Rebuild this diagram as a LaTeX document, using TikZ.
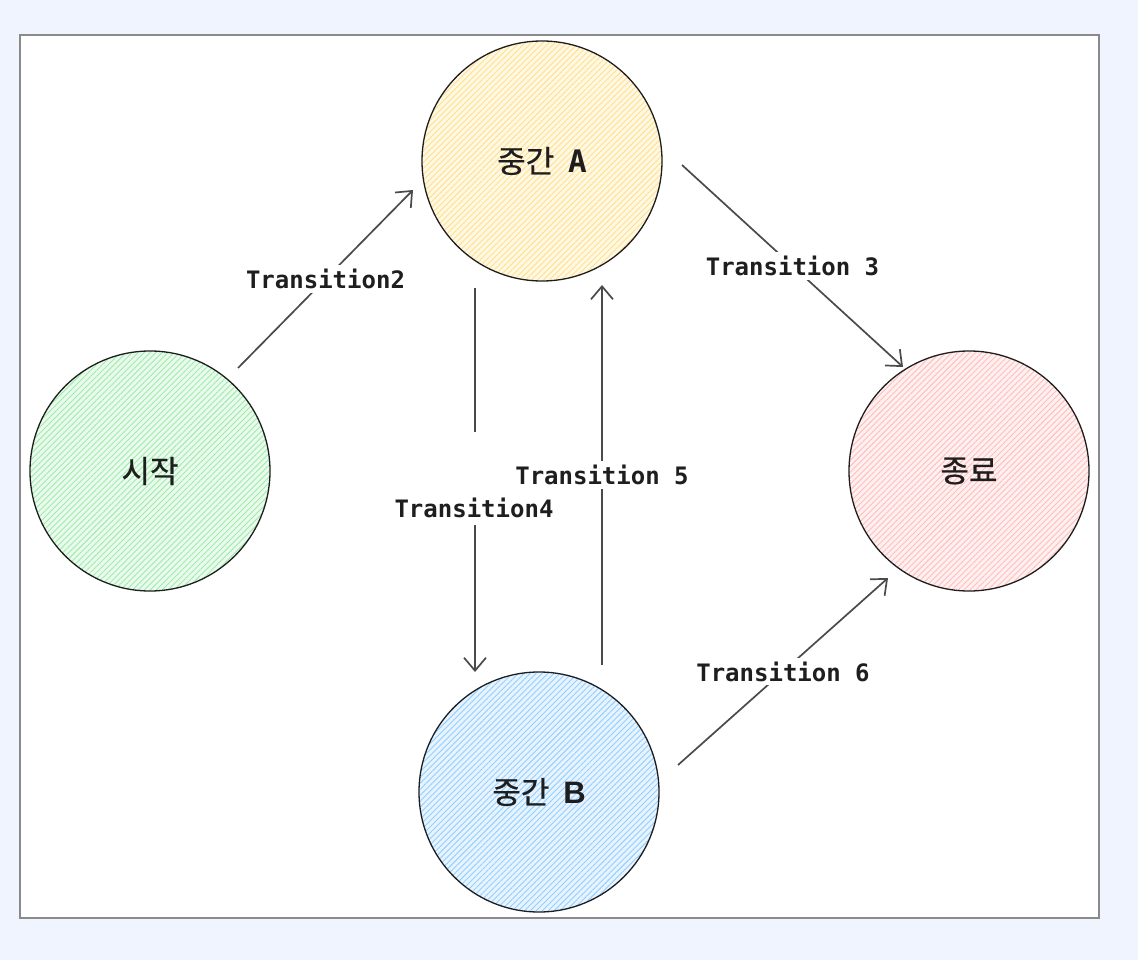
\documentclass[tikz,border=0pt]{standalone}
\usepackage{fontspec}
\usetikzlibrary{arrows.meta,patterns.meta,calc}
\newfontfamily\kofont{Noto Sans CJK KR}[FakeBold=0.6]
\newfontfamily\monofont{DejaVu Sans Mono}
\newfontfamily\latinsans{Liberation Sans}
\definecolor{bgblue}{HTML}{EFF4FE}
\definecolor{frame}{HTML}{8A8A8A}
\definecolor{ink}{HTML}{1E1E1E}
\definecolor{arrowgray}{HTML}{4A4A4A}
\definecolor{hyellow}{HTML}{FFE08A}
\definecolor{hgreen}{HTML}{9EEBAB}
\definecolor{hpink}{HTML}{FFBDBD}
\definecolor{hblue}{HTML}{93CFFF}
\tikzset{
  state/.style={circle, draw=ink, line width=1.3pt, minimum size=240pt, inner sep=0pt,
    font=\kofont\fontsize{31}{35}\selectfont, text=ink},
  hatch/.style={preaction={fill=#1!22}, pattern={Lines[angle=45,distance=4.2pt,line width=0.9pt]}, pattern color=#1},
  arr/.style={draw=arrowgray, line width=1.7pt, -{Straight Barb[length=13pt,width=22pt,line width=1.7pt]}},
  seg/.style={draw=arrowgray, line width=1.7pt},
  lbl/.style={fill=white, inner xsep=2pt, inner ysep=4pt, text=ink,
    font=\monofont\bfseries\fontsize{24}{28}\selectfont}
}
\begin{document}
\begin{tikzpicture}[x=1pt,y=-1pt]
\useasboundingbox (0,0) rectangle (1138,960);
\fill[bgblue] (0,0) rectangle (1138,960);
\draw[frame, fill=white, line width=1.5pt] (20,35) rectangle (1099,918);

\node[state, hatch=hyellow] (A) at (542,161) {중간~~{\monofont\bfseries A}};
\node[state, hatch=hgreen] (S) at (150,471) {시작};
\node[state, hatch=hpink] (E) at (969,471) {종료};
\node[state, hatch=hblue] (B) at (539,792) {중간~~{\latinsans\bfseries B}};

% arrow end points relative to the nodes
\coordinate (t2a) at ([shift={(88,-103)}]S.center);
\coordinate (t2b) at ([shift={(-129,29)}]A.center);
\coordinate (t3a) at ([shift={(140,4)}]A.center);
\coordinate (t3b) at ([shift={(-66,-104)}]E.center);
\coordinate (t4a) at ([shift={(-67,127)}]A.center);
\coordinate (t4b) at ([shift={(-64,-120)}]B.center);
\coordinate (t5a) at ([shift={(63,-127)}]B.center);
\coordinate (t5b) at ([shift={(60,124)}]A.center);
\coordinate (t6a) at ([shift={(139,-27)}]B.center);
\coordinate (t6b) at ([shift={(-81,107)}]E.center);

\draw[arr] (t2a) -- node[lbl] (l2) {Transition2} (t2b);
\draw[arr] (t3a) -- node[lbl] (l3) {Transition 3} (t3b);
\draw[arr] (t5a) -- node[lbl] (l5) {Transition 5} (t5b);
\draw[arr] (t6a) -- node[lbl] (l6) {Transition 6} (t6b);

\node[lbl] (l4) at (474,508) {Transition4};
\draw[seg] (t4a) -- ([yshift=76pt]t4a |- l4.center);
\draw[arr] ([yshift=-17pt]t4b |- l4.center) -- (t4b);
\end{tikzpicture}
\end{document}
